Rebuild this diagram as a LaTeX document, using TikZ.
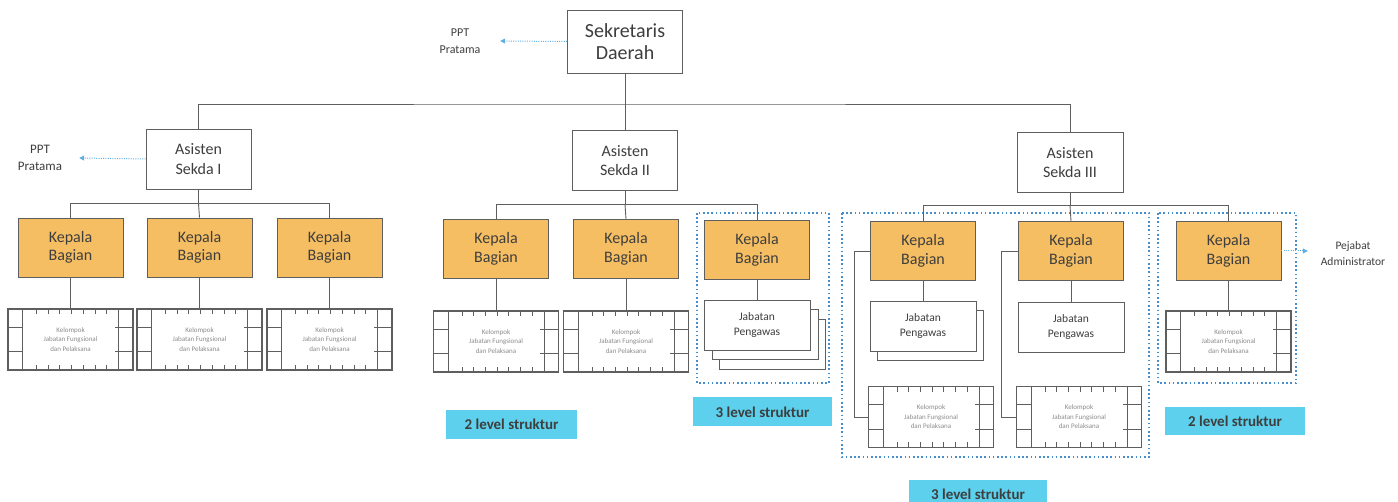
\documentclass[tikz,border=0pt]{standalone}
\usepackage{fontspec}
\setmainfont{Carlito}
\usepackage{xcolor}
\usepackage{tikz}
\usetikzlibrary{calc,arrows.meta,shadows}

\definecolor{txtgray}{RGB}{62,62,62}
\definecolor{linegray}{RGB}{95,95,95}
\definecolor{kabagfill}{RGB}{246,190,98}
\definecolor{levelfill}{RGB}{92,208,236}
\definecolor{groupblue}{RGB}{72,142,205}
\definecolor{arrowblue}{RGB}{95,175,225}

\tikzset{
  unit/.style={draw=linegray, fill=white, text=txtgray, align=center, inner sep=0pt, line width=0.9pt},
  sekda/.style={unit, minimum width=115, minimum height=63, font=\fontsize{20}{22}\selectfont},
  asisten/.style={unit, minimum width=105, minimum height=60, font=\fontsize{16}{19.5}\selectfont},
  kabag/.style={asisten, fill=kabagfill, minimum height=59, font=\fontsize{16}{18.5}\selectfont},
  jabatan/.style={unit, minimum width=106, minimum height=50, font=\fontsize{11.5}{15.5}\selectfont},
  onestack/.style={general shadow={shadow xshift=7pt, shadow yshift=-9pt, draw=linegray, fill=white, line width=0.9pt}},
  twostack/.style={general shadow={shadow xshift=15pt, shadow yshift=-19pt, draw=linegray, fill=white, line width=0.9pt},
                   general shadow={shadow xshift=8pt, shadow yshift=-9pt, draw=linegray, fill=white, line width=0.9pt}},
  kel/.style={unit, line width=1.1pt, minimum width=125, minimum height=61, text=black!45, font=\fontsize{7}{9.5}\selectfont},
  kelline/.style={draw=linegray, line width=0.9pt},
  ppt/.style={text=txtgray, align=center, inner sep=0pt, minimum width=80, font=\fontsize{12}{17}\selectfont},
  level/.style={fill=levelfill, text=txtgray, inner sep=0pt, minimum width=138, minimum height=29, font=\bfseries\fontsize{15}{18}\selectfont},
  conn/.style={draw=linegray, line width=0.9pt},
  toppt/.style={draw=arrowblue, line width=1pt, dash pattern=on 1pt off 1.3pt, -{Triangle[length=5pt,width=5pt]}},
  grp/.style={draw=groupblue, line width=1.6pt, dash pattern=on 1.6pt off 2.6pt}
}

% Kelompok box: name, centre
\newcommand{\kelompok}[2]{%
  \node[kel] (#1) at (#2) {Kelompok\\Jabatan Fungsional\\dan Pelaksana};
  \draw[kelline] ($(#1.north west)+(15,0)$) -- ($(#1.south west)+(15,0)$)
                 ($(#1.north east)+(-15,0)$) -- ($(#1.south east)+(-15,0)$);
  \foreach \f in {0.3,0.7}{
    \draw[kelline] ($(#1.north west)!\f!(#1.south west)$) -- ++(15,0);
    \draw[kelline] ($(#1.north east)!\f!(#1.south east)$) -- ++(-19,0);
  }
  \foreach \i in {0,...,6}{
    \draw[kelline] ($(#1.north west)+(29+11.7*\i,0)$) -- ++(0,6);
    \draw[kelline] ($(#1.south west)+(29+11.7*\i,0)$) -- ++(0,-6);
  }
}

\begin{document}
\begin{tikzpicture}[x=1pt,y=1pt,yscale=-1,xscale=1]
\useasboundingbox (0,0) rectangle (1398,502);

%Dotted groups
\draw[grp] (697,213) rectangle (829,383);
\draw[grp] (842,213) rectangle (1149,457);
\draw[grp] (1158,213) rectangle (1296,383);

% Sekretaris Daerah
\node[sekda] (sekda) at (625,41.5) {Sekretaris\\Daerah};
\node[ppt] (ppt0) at (460,41) {PPT\\Pratama};
\draw[toppt] (sekda.west) -- (ppt0.east);

% Asisten
\node[asisten] (as1) at (198.5,159) {Asisten\\Sekda I};
\node[asisten] (as2) at (625,160.5) {Asisten\\Sekda II};
\node[asisten, minimum width=106] (as3) at (1070,162.5) {Asisten\\Sekda III};
\node[ppt, minimum width=78, font=\fontsize{13}{17}\selectfont] (ppt1) at (40,158) {PPT\\Pratama};
\draw[toppt] (as1.west) -- (ppt1.east);

\coordinate (bus) at (625,104);
\draw[conn] (sekda.south) -- (bus);
\draw[conn] (as1.north) |- (bus) -| (as3.north);
\draw[conn] (bus) -- (as2.north);

% Kepala Bagian
\node[kabag] (kb11) at (70.5,247.5) {Kepala\\Bagian};
\node[kabag] (kb12) at (199.5,247.5) {Kepala\\Bagian};
\node[kabag] (kb13) at (329.5,247.5) {Kepala\\Bagian};
\node[kabag] (kb21) at (496,249) {Kepala\\Bagian};
\node[kabag] (kb22) at (626,249) {Kepala\\Bagian};
\node[kabag] (kb23) at (757,250) {Kepala\\Bagian};
\node[kabag] (kb31) at (923,251) {Kepala\\Bagian};
\node[kabag] (kb32) at (1071,251) {Kepala\\Bagian};
\node[kabag] (kb33) at (1228.5,251) {Kepala\\Bagian};

\draw[conn] (as1.south) -- ++(0,14) coordinate (b1);
\draw[conn] (kb11.north) |- (b1) -| (kb13.north);
\draw[conn] (b1) -- (kb12.north);
\draw[conn] (as2.south) -- ++(0,13.5) coordinate (b2);
\draw[conn] (kb21.north) |- (b2) -| (kb23.north);
\draw[conn] (b2) -- (kb22.north);
\draw[conn] (as3.south) -- ++(0,12.5) coordinate (b3);
\draw[conn] (kb31.north) |- (b3) -| (kb33.north);
\draw[conn] (b3) -- (kb32.north);

% Kelompok Jabatan Fungsional
\kelompok{kel11}{70.5,339.5}
\kelompok{kel12}{199.5,339.5}
\kelompok{kel13}{329.5,339.5}
\kelompok{kel21}{496,341.5}
\kelompok{kel22}{626,341.5}
\kelompok{kel31}{931,417}
\kelompok{kel32}{1079,417}
\kelompok{kel33}{1228.5,341.5}

% Jabatan Pengawas
\node[jabatan, twostack] (jab23) at (757,325) {Jabatan\\Pengawas};
\node[jabatan, onestack] (jab31) at (923,326) {Jabatan\\Pengawas};
\node[jabatan] (jab32) at (1071,327) {Jabatan\\Pengawas};

\draw[conn] (kb11.south) -- (kel11.north);
\draw[conn] (kb12.south) -- (kel12.north);
\draw[conn] (kb13.south) -- (kel13.north);
\draw[conn] (kb21.south) -- (kel21.north);
\draw[conn] (kb22.south) -- (kel22.north);
\draw[conn] (kb23.south) -- (jab23.north);
\draw[conn] (kb31.south) -- (jab31.north);
\draw[conn] (kb32.south) -- (jab32.north);
\draw[conn] (kb33.south) -- (kel33.north);
\draw[conn] (kb31.west) -- ++(-16,0) |- (kel31.west);
\draw[conn] (kb32.west) -- ++(-17,0) |- (kel32.west);

% Pejabat Administrator
\node[ppt, minimum width=90, font=\fontsize{11.5}{16}\selectfont] (pejabat) at (1353,254) {Pejabat\\Administrator};
\draw[toppt] (kb33.east) -- (kb33.east -| pejabat.west);

% Level struktur
\node[level, minimum width=131] (lv21) at (511.5,424.5) {2 level struktur};
\node[level, minimum width=139] (lv23) at (762.5,412) {3 level struktur};
\node[level] (lv3) at (978,494) {3 level struktur};
\node[level, minimum width=140, minimum height=28] (lv33) at (1235,421) {2 level struktur};

\end{tikzpicture}
\end{document}
